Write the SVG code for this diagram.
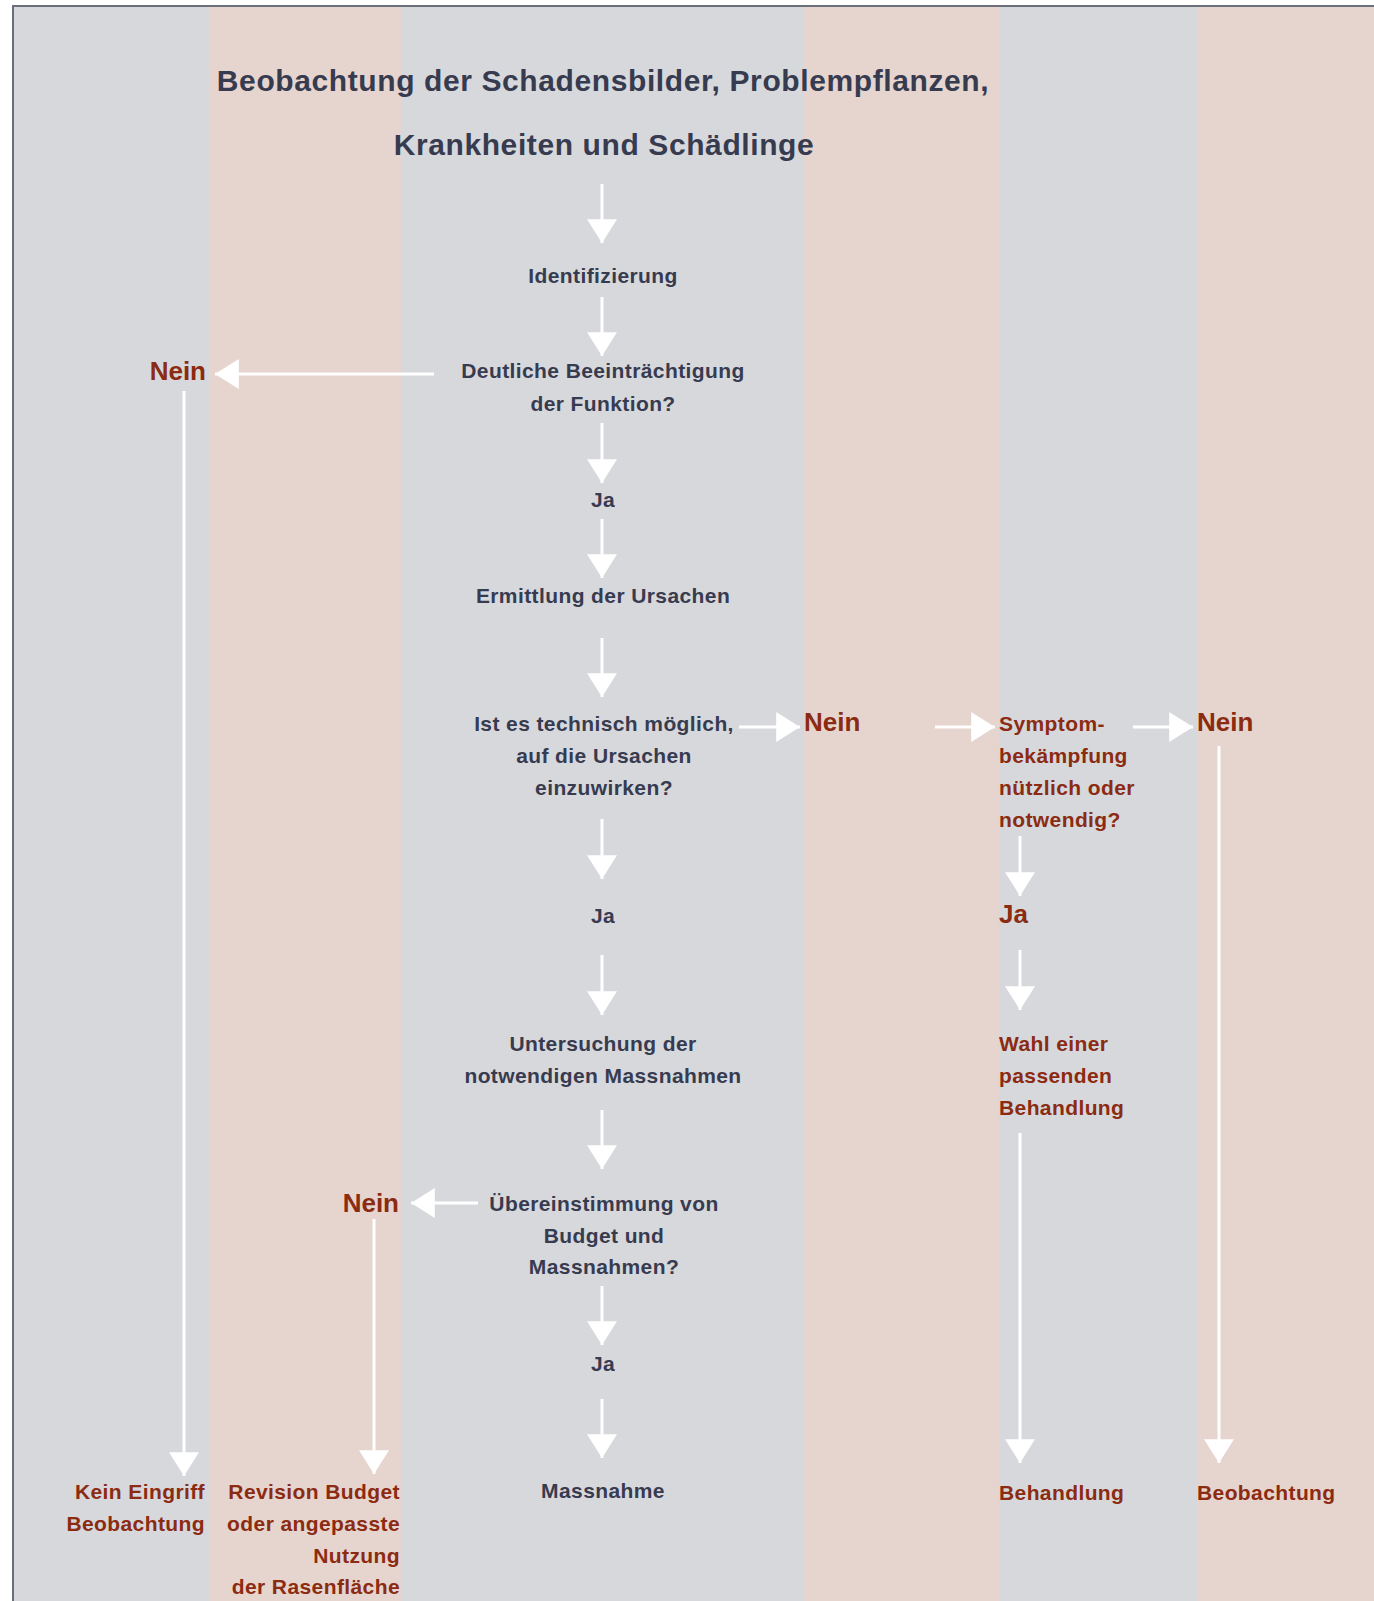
<svg xmlns="http://www.w3.org/2000/svg" width="1374" height="1601" viewBox="0 0 1374 1601">
  <style>
    .t { font-family: "Liberation Sans", Arial, sans-serif; font-weight: bold; font-size: 21px; letter-spacing: 0.4px; fill: #373b4f; }
    .title { font-size: 30px; letter-spacing: 0.6px; }
    .r { fill: #8b2b11; }
    .big { font-size: 26px; letter-spacing: 0px; }
    .c { text-anchor: middle; }
    .e { text-anchor: end; }
    .conn line { stroke: #ffffff; stroke-width: 3; fill: none; marker-end: url(#ah); }
    .gray { fill: #d7d8dc; }
    .pink { fill: #e6d4ce; }
  </style>
  <defs>
    <marker id="ah" markerUnits="userSpaceOnUse" markerWidth="24" markerHeight="30" viewBox="0 0 23 29" refX="23" refY="14.5" orient="auto">
      <path d="M0,0 L23,14.5 L0,29 Z" fill="#ffffff"/>
    </marker>
  </defs>

  <rect x="0" y="0" width="1374" height="1601" fill="#ffffff"/>
  <g id="background">
    <rect class="gray" x="14" y="7" width="195" height="1594"/>
    <rect class="pink" x="209" y="7" width="192" height="1594"/>
    <rect class="gray" x="401" y="7" width="403" height="1594"/>
    <rect class="pink" x="804" y="7" width="195" height="1594"/>
    <rect class="gray" x="999" y="7" width="198" height="1594"/>
    <rect class="pink" x="1197" y="7" width="177" height="1594"/>
    <path d="M13,1601 V6 H1374" fill="none" stroke="#6b6e7b" stroke-width="2"/>
  </g>

  <g id="title">
    <text class="t title c" x="603" y="91">Beobachtung der Schadensbilder, Problempflanzen,</text>
    <text class="t title c" x="604" y="155">Krankheiten und Schädlinge</text>
  </g>

  <g id="identifizierung"><text class="t c" x="603" y="283">Identifizierung</text></g>
  <g id="beeintraechtigung">
    <text class="t c" x="603" y="378">Deutliche Beeinträchtigung</text>
    <text class="t c" x="603" y="411">der Funktion?</text>
  </g>
  <g id="nein1"><text class="t r big e" x="206" y="380">Nein</text></g>
  <g id="ja1"><text class="t c" x="603" y="507">Ja</text></g>
  <g id="ermittlung"><text class="t c" x="603" y="603">Ermittlung der Ursachen</text></g>
  <g id="technisch">
    <text class="t c" x="604" y="731">Ist es technisch möglich,</text>
    <text class="t c" x="604" y="763">auf die Ursachen</text>
    <text class="t c" x="604" y="795">einzuwirken?</text>
  </g>
  <g id="nein2"><text class="t r big" x="804" y="731">Nein</text></g>
  <g id="symptom">
    <text class="t r" x="999" y="731">Symptom-</text>
    <text class="t r" x="999" y="763">bekämpfung</text>
    <text class="t r" x="999" y="795">nützlich oder</text>
    <text class="t r" x="999" y="827">notwendig?</text>
  </g>
  <g id="nein3"><text class="t r big" x="1197" y="731">Nein</text></g>
  <g id="ja2"><text class="t c" x="603" y="923">Ja</text></g>
  <g id="ja3"><text class="t r big" x="999" y="923">Ja</text></g>
  <g id="untersuchung">
    <text class="t c" x="603" y="1051">Untersuchung der</text>
    <text class="t c" x="603" y="1083">notwendigen Massnahmen</text>
  </g>
  <g id="wahl">
    <text class="t r" x="999" y="1051">Wahl einer</text>
    <text class="t r" x="999" y="1083">passenden</text>
    <text class="t r" x="999" y="1115">Behandlung</text>
  </g>
  <g id="uebereinstimmung">
    <text class="t c" x="604" y="1211">Übereinstimmung von</text>
    <text class="t c" x="604" y="1243">Budget und</text>
    <text class="t c" x="604" y="1274">Massnahmen?</text>
  </g>
  <g id="nein4"><text class="t r big e" x="399" y="1212">Nein</text></g>
  <g id="ja4"><text class="t c" x="603" y="1371">Ja</text></g>
  <g id="massnahme"><text class="t c" x="603" y="1498">Massnahme</text></g>
  <g id="kein-eingriff">
    <text class="t r e" x="205" y="1499">Kein Eingriff</text>
    <text class="t r e" x="205" y="1531">Beobachtung</text>
  </g>
  <g id="revision">
    <text class="t r e" x="400" y="1499">Revision Budget</text>
    <text class="t r e" x="400" y="1531">oder angepasste</text>
    <text class="t r e" x="400" y="1563">Nutzung</text>
    <text class="t r e" x="400" y="1594">der Rasenfläche</text>
  </g>
  <g id="behandlung"><text class="t r" x="999" y="1500">Behandlung</text></g>
  <g id="beobachtung"><text class="t r" x="1197" y="1500">Beobachtung</text></g>

  <g id="connectors" class="conn">
    <line x1="602" y1="184" x2="602" y2="243"/>
    <line x1="602" y1="297" x2="602" y2="356"/>
    <line x1="434" y1="374" x2="215" y2="374"/>
    <line x1="602" y1="423" x2="602" y2="483"/>
    <line x1="602" y1="519" x2="602" y2="578"/>
    <line x1="602" y1="638" x2="602" y2="697"/>
    <line x1="739" y1="727" x2="800" y2="727"/>
    <line x1="935" y1="727" x2="995" y2="727"/>
    <line x1="1133" y1="727" x2="1193" y2="727"/>
    <line x1="602" y1="819" x2="602" y2="879"/>
    <line x1="602" y1="955" x2="602" y2="1015"/>
    <line x1="602" y1="1110" x2="602" y2="1169"/>
    <line x1="478" y1="1203" x2="411" y2="1203"/>
    <line x1="602" y1="1286" x2="602" y2="1345"/>
    <line x1="602" y1="1399" x2="602" y2="1458"/>
    <line x1="184" y1="391" x2="184" y2="1476"/>
    <line x1="374" y1="1219" x2="374" y2="1474"/>
    <line x1="1020" y1="836" x2="1020" y2="896"/>
    <line x1="1020" y1="950" x2="1020" y2="1010"/>
    <line x1="1020" y1="1133" x2="1020" y2="1463"/>
    <line x1="1219" y1="746" x2="1219" y2="1463"/>
  </g>
</svg>
